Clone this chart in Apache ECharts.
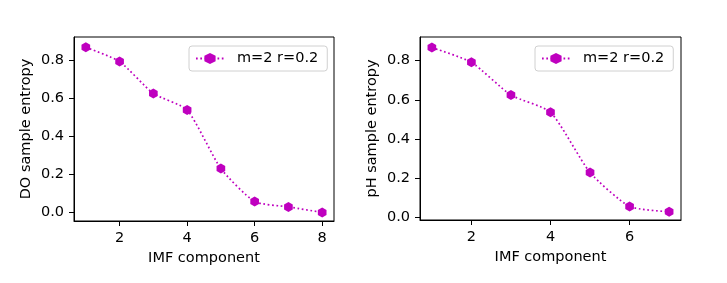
<!DOCTYPE html>
<html><head><meta charset="utf-8">
<script src="https://cdn.jsdelivr.net/npm/echarts@6/dist/echarts.min.js"></script>
<style>html,body{margin:0;padding:0;background:#fff}#c{width:727px;height:283px}</style>
</head><body><div id="c"></div>
<script>
const seriesName = 'm=2 r=0.2';
const doX = [1,2,3,4,5,6,7,8];
const doY = [0.866,0.791,0.624,0.537,0.230,0.057,0.029,0.0];
const phX = [1,2,3,4,5,6,7];
const phY = [0.866,0.791,0.624,0.537,0.230,0.057,0.030];
const yTicks = [0,0.2,0.4,0.6,0.8];
const doXTicks = [2,4,6,8];
const phXTicks = [2,4,6];

const FONT = 'DejaVu Sans';
const FS = 14.5;
const COLOR = '#bf00bf';
const hex = 'path://M0,-1 L0.866,-0.5 L0.866,0.5 L0,1 L-0.866,0.5 L-0.866,-0.5 Z';

function xAx(idx, min, max, ticks){
  return {type:'value', gridIndex:idx, min:min, max:max,
    name:'IMF component', nameLocation:'middle', nameGap:30,
    nameTextStyle:{fontFamily:FONT,fontSize:FS,color:'#000'},
    axisLine:{show:true,onZero:false,lineStyle:{color:'#000',width:1}},
    axisTick:{show:true,length:5,customValues:ticks,lineStyle:{color:'#000'}},
    axisLabel:{customValues:ticks,fontFamily:FONT,fontSize:FS,color:'#000',margin:10,formatter:v=>String(v)},
    splitLine:{show:false}};
}
function yAx(idx, min, max, name){
  return {type:'value', gridIndex:idx, min:min, max:max,
    name:name, nameLocation:'middle', nameGap:40,
    nameTextStyle:{fontFamily:FONT,fontSize:FS,color:'#000'},
    axisLine:{show:true,onZero:false,lineStyle:{color:'#000',width:1}},
    axisTick:{show:true,length:5,customValues:yTicks,lineStyle:{color:'#000'}},
    axisLabel:{customValues:yTicks,fontFamily:FONT,fontSize:FS,color:'#000',margin:10,formatter:v=>v.toFixed(1)},
    splitLine:{show:false}};
}
function ser(idx, xs, ys){
  return {name:seriesName, type:'line', xAxisIndex:idx, yAxisIndex:idx,
    data: xs.map((x,i)=>[x,ys[i]]), smooth:0.2,
    symbol:hex, symbolSize:[10,10], symbolKeepAspect:true,
    itemStyle:{color:COLOR}, lineStyle:{color:COLOR,width:1.7,type:[1.7,2.6],cap:'butt'},
    emphasis:{disabled:true}, animation:false};
}
function leg(left){
  return {data:[seriesName], left:left, top:46, orient:'horizontal',
    backgroundColor:'#fff', borderColor:'#d0d0d0', borderWidth:1, borderRadius:3,
    padding:[5,9,5,6], itemWidth:28, itemHeight:14, itemGap:8,
    textStyle:{fontFamily:FONT,fontSize:FS,color:'#000',padding:[0,0,0,8]}};
}
const chart = echarts.init(document.getElementById('c'), null, {renderer:'canvas'});
chart.setOption({
  animation:false,
  backgroundColor:'#fff',
  grid:[
    {left:74, right:393, top:37, bottom:62, show:true, borderColor:'#000', borderWidth:1, backgroundColor:'transparent'},
    {left:420, right:46, top:37, bottom:63, show:true, borderColor:'#000', borderWidth:1, backgroundColor:'transparent'}
  ],
  xAxis:[xAx(0,0.65,8.35,doXTicks), xAx(1,0.7,7.3,phXTicks)],
  yAxis:[yAx(0,-0.045,0.92,'DO sample entropy'), yAx(1,-0.012,0.92,'pH sample entropy')],
  legend:[leg(189), leg(535)],
  series:[ser(0,doX,doY), ser(1,phX,phY)]
});
</script></body></html>
